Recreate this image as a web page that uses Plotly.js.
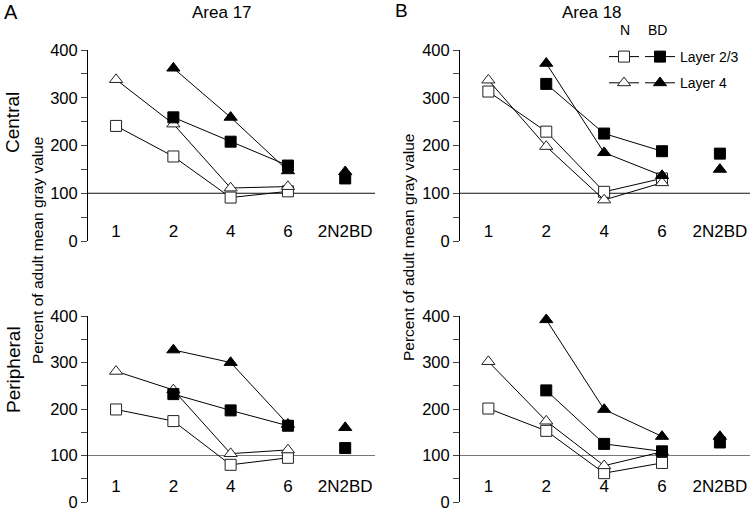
<!DOCTYPE html>
<html>
<head>
<meta charset="utf-8">
<script src="https://cdn.plot.ly/plotly-3.0.1.min.js"></script>
<style>html,body{margin:0;padding:0;background:#fff;}#chart{width:750px;height:513px;}</style>
</head>
<body>
<div id="chart"></div>
<script>
// ---- data ----
const categories = ['1', '2', '4', '6', '2N2BD'];
const ageN = ['1', '2', '4', '6'];
const ageBD = ['2', '4', '6'];
const ageTreat = ['2N2BD'];
const yTickVals = [0, 50, 100, 150, 200, 250, 300, 350, 400];
const yTickText = ['0', '', '100', '', '200', '', '300', '', '400'];

// Area 17, central
const a17cN_L23 = [241, 177, 91, 104];
const a17cN_L4 = [338, 245, 111, 114];
const a17cBD_L23 = [259, 208, 158];
const a17cBD_L4 = [362, 259, 147];
const a17cT_L23 = [131];
const a17cT_L4 = [145];
// Area 18, central
const a18cN_L23 = [313, 229, 103, 131];
const a18cN_L4 = [337, 198, 86, 122];
const a18cBD_L23 = [329, 225, 188];
const a18cBD_L4 = [372, 185, 137];
const a18cT_L23 = [183];
const a18cT_L4 = [150];
// Area 17, peripheral
const a17pN_L23 = [199, 174, 80, 95];
const a17pN_L4 = [281, 241, 104, 112];
const a17pBD_L23 = [232, 197, 164];
const a17pBD_L4 = [327, 300, 167];
const a17pT_L23 = [116];
const a17pT_L4 = [160];
// Area 18, peripheral
const a18pN_L23 = [201, 153, 62, 84];
const a18pN_L4 = [302, 174, 78, 108];
const a18pBD_L23 = [240, 125, 109];
const a18pBD_L4 = [392, 199, 141];
const a18pT_L23 = [128];
const a18pT_L4 = [141];

const legendNames = { nl23: ' ', nl4: ' ', bl23: 'Layer 2/3', bl4: 'Layer 4' };

// ---- styling ----
const FONT = 'Liberation Sans, Arial, Helvetica, sans-serif';
const LABEL_Y_TOP = 17;
const LABEL_Y_BOT = 30;
const SQ = 11, TRI = 11.5;

function mk(open, sym, size) {
  return { symbol: sym, size: size, color: open ? '#fff' : '#000',
           line: { color: open ? '#222' : '#000', width: 1 } };
}

const panels = [
  { xa: 'x', ya: 'y', ly: LABEL_Y_TOP, d: [a17cN_L23, a17cN_L4, a17cBD_L23, a17cBD_L4, a17cT_L23, a17cT_L4], leg: true },
  { xa: 'x2', ya: 'y2', ly: LABEL_Y_TOP, d: [a18cN_L23, a18cN_L4, a18cBD_L23, a18cBD_L4, a18cT_L23, a18cT_L4], leg: false },
  { xa: 'x3', ya: 'y3', ly: LABEL_Y_BOT, d: [a17pN_L23, a17pN_L4, a17pBD_L23, a17pBD_L4, a17pT_L23, a17pT_L4], leg: false },
  { xa: 'x4', ya: 'y4', ly: LABEL_Y_BOT, d: [a18pN_L23, a18pN_L4, a18pBD_L23, a18pBD_L4, a18pT_L23, a18pT_L4], leg: false }
];

const traces = [];
panels.forEach(p => {
  const base = { xaxis: p.xa, yaxis: p.ya, cliponaxis: false, hoverinfo: 'x+y' };
  const lineStyle = { color: '#000', width: 1 };
  const defs = [
    { x: ageN, y: p.d[0], m: mk(true, 'square', SQ), g: 'nl23', lg: 'legend' },
    { x: ageN, y: p.d[1], m: mk(true, 'triangle-up', TRI), g: 'nl4', lg: 'legend' },
    { x: ageBD, y: p.d[2], m: mk(false, 'square', SQ), g: 'bl23', lg: 'legend2' },
    { x: ageBD, y: p.d[3], m: mk(false, 'triangle-up', TRI), g: 'bl4', lg: 'legend2' }
  ];
  defs.forEach(t => {
    traces.push(Object.assign({}, base, {
      type: 'scatter', mode: 'lines+markers', x: t.x, y: t.y,
      line: lineStyle, marker: t.m, name: legendNames[t.g],
      legendgroup: t.g, legend: t.lg, showlegend: p.leg
    }));
  });
  traces.push(Object.assign({}, base, {
    type: 'scatter', mode: 'markers', x: ageTreat, y: p.d[4],
    marker: mk(false, 'square', SQ), showlegend: false
  }));
  traces.push(Object.assign({}, base, {
    type: 'scatter', mode: 'markers', x: ageTreat, y: p.d[5],
    marker: mk(false, 'triangle-up', TRI), showlegend: false
  }));
  traces.push(Object.assign({}, base, {
    type: 'scatter', mode: 'text', x: categories,
    y: categories.map(() => p.ly), text: categories,
    textfont: { family: FONT, size: 17, color: '#000' },
    hoverinfo: 'skip', showlegend: false
  }));
});

const W = 750, H = 513;
const px = v => v / W, py = v => 1 - v / H;
const xDomA = [px(88), px(375)], xDomB = [px(460), 1];
const yDomTop = [py(241), py(50)], yDomBot = [py(502), py(316)];

function xax(dom) {
  return { domain: dom, type: 'category', categoryorder: 'array', categoryarray: categories,
           range: [-0.49, 4.52], visible: false, fixedrange: true };
}
function yax(dom, anchor) {
  return { domain: dom, anchor: anchor, range: [0, 400], tickmode: 'array',
           tickvals: yTickVals, ticktext: yTickText, ticks: 'outside', ticklen: 6,
           tickcolor: '#444', tickwidth: 1, showline: true, linecolor: '#000', linewidth: 1,
           showgrid: false, zeroline: false, ticklabeloverflow: 'allow',
           tickfont: { family: FONT, size: 16.5, color: '#000' }, fixedrange: true };
}

function hline(xr, yr, col) {
  return { type: 'line', xref: xr + ' domain', yref: yr, x0: 0, x1: 1, y0: 100, y1: 100,
           line: { color: col, width: 1 }, layer: 'below' };
}

function ann(text, x, y, size, angle, xanchor) {
  return { text: text, xref: 'paper', yref: 'paper', x: px(x), y: py(y), showarrow: false,
           xanchor: xanchor || 'center', yanchor: 'middle', textangle: angle || 0,
           font: { family: FONT, size: size, color: '#000' } };
}

const yTitle = 'Percent of adult mean gray value';

const layout = {
  width: W, height: H, margin: { l: 0, r: 0, t: 0, b: 0 },
  paper_bgcolor: '#fff', plot_bgcolor: 'rgba(0,0,0,0)',
  xaxis: xax(xDomA), yaxis: yax(yDomTop, 'x'),
  xaxis2: xax(xDomB), yaxis2: yax(yDomTop, 'x2'),
  xaxis3: xax(xDomA), yaxis3: yax(yDomBot, 'x3'),
  xaxis4: xax(xDomB), yaxis4: yax(yDomBot, 'x4'),
  shapes: [hline('x', 'y', '#111'), hline('x2', 'y2', '#111'), hline('x3', 'y3', '#777'), hline('x4', 'y4', '#777')],
  annotations: [
    ann('A', 2, 12, 20, 0, 'left'),
    ann('B', 393, 11, 19, 0, 'left'),
    ann('Area 17', 222, 12, 17),
    ann('Area 18', 592, 12, 17),
    ann('Central', 13, 123, 19, -90),
    ann('Peripheral', 13, 370, 19, -90),
    ann(yTitle, 38, 251, 15.5, -90),
    ann(yTitle, 408, 248, 15.5, -90),
    ann('N', 625, 30, 14),
    ann('BD', 657, 30, 14)
  ],
  legend: { x: px(604), xanchor: 'left', y: py(41), yanchor: 'top', bgcolor: 'rgba(0,0,0,0)',
            font: { family: FONT, size: 14, color: '#000' }, traceorder: 'grouped', tracegroupgap: 5 },
  legend2: { x: px(640), xanchor: 'left', y: py(41), yanchor: 'top', bgcolor: 'rgba(0,0,0,0)',
             font: { family: FONT, size: 14, color: '#000' }, traceorder: 'grouped', tracegroupgap: 5 },
  showlegend: true
};

Plotly.newPlot('chart', traces, layout, { displayModeBar: false, staticPlot: true });
</script>
</body>
</html>
